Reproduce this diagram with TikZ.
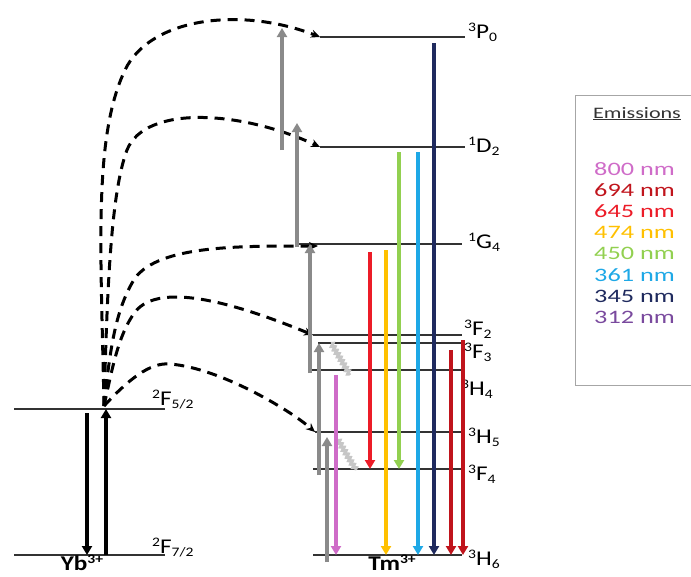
\documentclass[tikz,border=0pt]{standalone}
\usepackage{graphicx}
\usepackage{fontspec}
\setmainfont{Carlito}
\usepackage{tikz}
\usetikzlibrary{arrows.meta,decorations.pathmorphing}
\definecolor{pumpgray}{HTML}{8A8A8A}
\definecolor{nm800}{HTML}{CF6CC8}
\definecolor{nm694}{HTML}{C0141C}
\definecolor{nm645}{HTML}{EC1C28}
\definecolor{nm474}{HTML}{FFC000}
\definecolor{nm450}{HTML}{92D050}
\definecolor{nm361}{HTML}{1EA8E6}
\definecolor{nm345}{HTML}{1F2A5E}
\definecolor{nm312}{HTML}{7A4A9E}
\definecolor{legtxt}{HTML}{333333}
\newcommand\upx[1]{\raisebox{6.5pt}{\fontsize{13}{13}\selectfont #1}}
\newcommand\dnx[1]{\raisebox{-3pt}{\fontsize{13}{13}\selectfont #1}}
\newcommand\wterm[1]{\scalebox{1.2}[1]{#1}}
\newcommand\wleg[1]{\scalebox{1.38}[1]{#1}}

\begin{document}
\begin{tikzpicture}[x=1pt,y=-1pt,
		level/.style={draw=black!80,line width=1.4pt},
		term/.style={anchor=base west,inner sep=0pt,font=\fontsize{21}{21}\selectfont},
		ion/.style={anchor=north,inner sep=0pt,font=\bfseries\fontsize{21}{21}\selectfont},
		et/.style={draw=black,line width=3pt,dash pattern=on 10pt off 7pt,-{Stealth[length=9pt,width=8pt]}},
		pump/.style={draw=pumpgray,line width=3.4pt,-{Triangle[length=9pt,width=10pt]}},
		em/.style={line width=3.4pt,-{Triangle[length=9pt,width=10pt]}},
		yb/.style={draw=black,line width=3.2pt,-{Triangle[length=9pt,width=10pt]}},
		relax/.style={draw=gray!45,line width=2.4pt,decorate,decoration={snake,amplitude=2.2pt,segment length=4pt}},
		leg/.style={anchor=base west,inner sep=0pt,font=\fontsize{19}{19}\selectfont}
		]
		\useasboundingbox (0,0) rectangle (691,576);
		% Yb levels
		\coordinate (F52a) at (14,409); \coordinate (F52b) at (165,409);
		\coordinate (F72a) at (14,555); \coordinate (F72b) at (165,555);
		\draw[level] (F52a)--(F52b); \draw[level] (F72a)--(F72b);
		\node[term] (tF52) at (152,405) {\wterm{\upx{2}F\dnx{5/2}}};
		\node[term] (tF72) at (152,553) {\wterm{\upx{2}F\dnx{7/2}}};
		\node[ion] (yb) at (82,555) {\wterm{Yb\upx{3+}}};
		\coordinate (ybdn) at (87,413); \coordinate (ybup) at (106,555);
		\draw[yb] (ybdn)--(ybdn |- F72a);
		\draw[yb] (ybup)--(ybup |- F52a);
		\coordinate (ybtop) at (104,406);
		% Tm levels
		\coordinate (P0a) at (320,37); \coordinate (P0b) at (465,37);
		\coordinate (D2a) at (320,147); \coordinate (D2b) at (465,147);
		\coordinate (G4a) at (298,244); \coordinate (G4b) at (462,244);
		\coordinate (F2a) at (313,335); \coordinate (F2b) at (462,335);
		\coordinate (F3a) at (318,343); \coordinate (F3b) at (462,343);
		\coordinate (H4a) at (310,370); \coordinate (H4b) at (462,370);
		\coordinate (H5a) at (315,432); \coordinate (H5b) at (462,432);
		\coordinate (F4a) at (313,469); \coordinate (F4b) at (462,469);
		\coordinate (H6a) at (313,555); \coordinate (H6b) at (462,555);
		\draw[level] (P0a)--(P0b); \draw[level] (D2a)--(D2b); \draw[level] (G4a)--(G4b);
		\draw[level] (F2a)--(F2b); \draw[level] (F3a)--(F3b); \draw[level] (H4a)--(H4b);
		\draw[level] (H5a)--(H5b); \draw[level] (F4a)--(F4b); \draw[level] (H6a)--(H6b);
		\node[term] (tP0) at (468,38) {\wterm{\upx{3}P\dnx{0}}};
		\node[term] (tD2) at (468,152) {\wterm{\upx{1}D\dnx{2}}};
		\node[term] (tG4) at (468,248) {\wterm{\upx{1}G\dnx{4}}};
		\node[term] (tF2) at (464,335) {\wterm{\upx{3}F\dnx{2}}};
		\node[term] (tF3) at (464,358) {\wterm{\upx{3}F\dnx{3}}};
		\node[term] (tH4) at (461,395) {\wterm{\upx{3}H\dnx{4}}};
		\node[term] (tH5) at (468,443) {\wterm{\upx{3}H\dnx{5}}};
		\node[term] (tF4) at (468,480) {\wterm{\upx{3}F\dnx{4}}};
		\node[term] (tH6) at (468,565) {\wterm{\upx{3}H\dnx{6}}};
		\node[ion] (tm) at (392,555) {\wterm{Tm\upx{3+}}};
		% energy transfer Yb -> Tm
		\coordinate (G4in) at (318,246);
		\draw[et] (ybtop) .. controls (101,250) and (93,137) .. (125,70) .. controls (150,18) and (240,6) .. (P0a);
		\draw[et] (ybtop) .. controls (107,300) and (110,195) .. (127,150) .. controls (145,105) and (240,110) .. (D2a);
		\draw[et] (ybtop) .. controls (110,350) and (115,310) .. (135,278) .. controls (160,245) and (240,246) .. (G4in);
		\draw[et] (ybtop) .. controls (112,370) and (118,335) .. (135,312) .. controls (160,280) and (240,305) .. (F2a);
		\draw[et] (ybtop) .. controls (128,380) and (150,362) .. (170,364) .. controls (220,368) and (290,410) .. (H5a);
		% excitation steps
		\coordinate (pu1) at (327,562); \coordinate (pt1) at (327,437);
		\coordinate (pu2) at (319,475);
		\coordinate (pu3) at (310,373);
		\coordinate (pu4) at (297,247); \coordinate (pt4) at (297,123);
		\coordinate (pu5) at (282,150); \coordinate (pt5) at (282,28);
		\draw[pump] (pu1)--(pt1);
		\draw[pump] (pu2)--(pu2 |- F3a);
		\draw[pump] (pu3)--(pu3 |- G4a);
		\draw[pump] (pu4)--(pt4);
		\draw[pump] (pu5)--(pt5);
		% non-radiative relaxation
		\coordinate (w1a) at (331,343); \coordinate (w1b) at (350,375);
		\coordinate (w2a) at (338,440); \coordinate (w2b) at (356,470);
		\draw[relax] (w1a)--(w1b); \draw[relax] (w2a)--(w2b);
		% emissions
		\coordinate (e800) at (336,375); \coordinate (e645) at (370,252);
		\coordinate (e474) at (386,250); \coordinate (e450) at (399,152);
		\coordinate (e361) at (418,152); \coordinate (e345) at (434,43);
		\coordinate (e694a) at (451,350); \coordinate (e694b) at (463,340);
		\draw[em,nm800] (e800)--(e800 |- H6a);
		\draw[em,nm645] (e645)--(e645 |- F4a);
		\draw[em,nm474] (e474)--(e474 |- H6a);
		\draw[em,nm450] (e450)--(e450 |- F4a);
		\draw[em,nm361] (e361)--(e361 |- H6a);
		\draw[em,nm345] (e345)--(e345 |- H6a);
		\draw[em,nm694] (e694a)--(e694a |- H6a);
		\draw[em,nm694] (e694b)--(e694b |- H6a);
		% legend
		\node[draw=gray!70,line width=1.2pt,anchor=north west,inner sep=0pt,minimum width=130pt,minimum height=290pt] (legend) at (575,95) {};
		\node[leg,text=legtxt,font=\fontsize{16}{16}\selectfont] (lhead) at (593,118) {\wleg{\underline{Emissions}}};
		\node[leg,text=nm800] (l800) at (594,175) {\wleg{800 nm}};
		\node[leg,text=nm694] (l694) at (594,196) {\wleg{694 nm}};
		\node[leg,text=nm645] (l645) at (594,217) {\wleg{645 nm}};
		\node[leg,text=nm474] (l474) at (594,238) {\wleg{474 nm}};
		\node[leg,text=nm450] (l450) at (594,259) {\wleg{450 nm}};
		\node[leg,text=nm361] (l361) at (594,281) {\wleg{361 nm}};
		\node[leg,text=nm345] (l345) at (594,302) {\wleg{345 nm}};
		\node[leg,text=nm312] (l312) at (594,323) {\wleg{312 nm}};
	\end{tikzpicture}
\end{document}
